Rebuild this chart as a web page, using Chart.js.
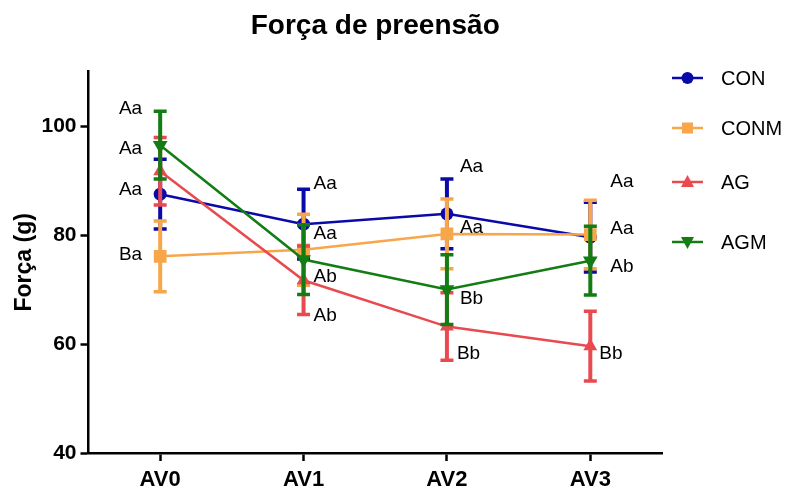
<!DOCTYPE html>
<html>
<head>
<meta charset="utf-8">
<script src="https://cdn.jsdelivr.net/npm/chart.js@4/dist/chart.umd.min.js"></script>
<style>
  body { margin: 0; background: #fff; }
  canvas { display: block; }
</style>
</head>
<body>
<canvas id="chart" width="791" height="488"></canvas>
<script>
// Força de preensão - means +/- error per evaluation
const categories = ['AV0', 'AV1', 'AV2', 'AV3'];

const conValues = [87.5, 82.0, 83.9, 79.6];
const conErrors = [6.4, 6.4, 6.4, 6.4];
const conmValues = [76.1, 77.3, 80.2, 80.1];
const conmErrors = [6.5, 6.5, 6.4, 6.3];
const agValues = [91.7, 71.7, 63.2, 59.6];
const agErrors = [6.2, 6.3, 6.2, 6.4];
const agmValues = [96.5, 75.5, 70.0, 75.3];
const agmErrors = [6.2, 6.4, 6.4, 6.3];

// significance letters and the value level they sit at
const conLetters = ['Aa', 'Aa', 'Aa', 'Aa'];
const conLetterY = [88.4, 89.4, 92.5, 89.7];
const conmLetters = ['Ba', 'Aa', 'Aa', 'Aa'];
const conmLetterY = [76.4, 80.2, 81.3, 81.1];
const agLetters = ['Aa', 'Ab', 'Bb', 'Bb'];
const agLetterY = [95.8, 65.2, 58.3, 58.3];
const agmLetters = ['Aa', 'Ab', 'Bb', 'Ab'];
const agmLetterY = [103.1, 72.4, 68.3, 74.2];

const yTicks = [40, 60, 80, 100];

const FONT = "'Liberation Sans', Arial, Helvetica, sans-serif";
Chart.defaults.font.family = FONT;
Chart.defaults.color = '#000';

const errorBars = {
  id: 'errorBars',
  beforeDatasetDraw(chart, args) {
    const ds = chart.data.datasets[args.index];
    if (!ds.errors) return;
    const y = chart.scales.y;
    const ctx = chart.ctx;
    ctx.save();
    ctx.strokeStyle = ds.borderColor;
    args.meta.data.forEach((pt, i) => {
      const v = ds.data[i], e = ds.errors[i];
      const top = y.getPixelForValue(v + e);
      const bot = y.getPixelForValue(v - e);
      ctx.lineWidth = 4;
      ctx.beginPath();
      ctx.moveTo(pt.x, top);
      ctx.lineTo(pt.x, bot);
      ctx.stroke();
      ctx.lineWidth = 3.5;
      ctx.beginPath();
      ctx.moveTo(pt.x - 6.5, top); ctx.lineTo(pt.x + 6.5, top);
      ctx.moveTo(pt.x - 6.5, bot); ctx.lineTo(pt.x + 6.5, bot);
      ctx.stroke();
    });
    ctx.restore();
  }
};

const letters = {
  id: 'letters',
  afterDatasetsDraw(chart) {
    const ctx = chart.ctx;
    const x = chart.scales.x, y = chart.scales.y;
    ctx.save();
    ctx.font = '19px ' + FONT;
    ctx.fillStyle = '#000';
    ctx.textBaseline = 'middle';
    chart.data.datasets.forEach(ds => {
      ds.letters.forEach((txt, i) => {
        const dx = ds.letterDx[i];
        ctx.textAlign = dx < 0 ? 'right' : 'left';
        ctx.fillText(txt, x.getPixelForValue(i) + dx, y.getPixelForValue(ds.letterY[i]));
      });
    });
    ctx.restore();
  }
};

function drawMarker(ctx, style, cx, cy) {
  ctx.beginPath();
  if (style === 'circle') {
    ctx.arc(cx, cy, 6, 0, Math.PI * 2);
  } else if (style === 'rect') {
    ctx.rect(cx - 5.5, cy - 5.5, 11, 11);
  } else if (style === 'up') {
    ctx.moveTo(cx, cy - 7); ctx.lineTo(cx + 6.5, cy + 5); ctx.lineTo(cx - 6.5, cy + 5);
  } else {
    ctx.moveTo(cx, cy + 7); ctx.lineTo(cx + 6.5, cy - 5); ctx.lineTo(cx - 6.5, cy - 5);
  }
  ctx.closePath();
  ctx.fill();
}

const sideLegend = {
  id: 'sideLegend',
  afterDraw(chart) {
    const ctx = chart.ctx;
    const x0 = chart.chartArea.right + 10;
    const rows = [78, 128, 182, 242];
    const marks = ['circle', 'rect', 'up', 'down'];
    ctx.save();
    ctx.font = '20px ' + FONT;
    ctx.textBaseline = 'middle';
    ctx.textAlign = 'left';
    chart.data.datasets.forEach((ds, i) => {
      const yy = rows[i];
      ctx.strokeStyle = ds.borderColor;
      ctx.fillStyle = ds.borderColor;
      ctx.lineWidth = 2.5;
      ctx.beginPath();
      ctx.moveTo(x0, yy); ctx.lineTo(x0 + 31, yy);
      ctx.stroke();
      drawMarker(ctx, marks[i], x0 + 15.5, yy);
      ctx.fillStyle = '#000';
      ctx.fillText(ds.label, x0 + 49, yy + 1);
    });
    ctx.restore();
  }
};

function series(label, values, errors, color, style, radius, rotation, lettersArr, letterY, dx, order) {
  return {
    label, data: values, errors,
    borderColor: color, backgroundColor: color,
    borderWidth: 2.5, tension: 0,
    pointStyle: style, pointRadius: radius, pointRotation: rotation,
    pointBorderWidth: 0, pointHoverRadius: radius,
    letters: lettersArr, letterY, letterDx: dx, order
  };
}

const defaultDx = [-18, 10, 13, 20];

new Chart(document.getElementById('chart'), {
  type: 'line',
  data: {
    labels: categories,
    datasets: [
      series('CON', conValues, conErrors, '#0a0aa8', 'circle', 6.5, 0, conLetters, conLetterY, defaultDx, 4),
      series('CONM', conmValues, conmErrors, '#f7a64a', 'rect', 9, 0, conmLetters, conmLetterY, defaultDx, 3),
      series('AG', agValues, agErrors, '#e84a4f', 'triangle', 8, 0, agLetters, agLetterY, [-18, 10, 10, 9], 2),
      series('AGM', agmValues, agmErrors, '#137c13', 'triangle', 8.5, 180, agmLetters, agmLetterY, defaultDx, 1)
    ]
  },
  options: {
    responsive: false,
    animation: false,
    layout: { padding: { left: 5, right: 129, top: 0, bottom: 0 } },
    plugins: {
      legend: { display: false },
      tooltip: { enabled: false },
      title: {
        display: true,
        text: 'Força de preensão',
        fullSize: false,
        color: '#000',
        font: { size: 28, weight: 'bold' },
        padding: { top: 9, bottom: 29 }
      }
    },
    scales: {
      x: {
        offset: true,
        afterFit: scale => { scale.height = 35; },
        grid: { display: true, drawOnChartArea: false, tickLength: 8, tickColor: '#000', tickWidth: 2.5 },
        border: { display: true, color: '#000', width: 2.5 },
        ticks: { color: '#000', font: { size: 22, weight: 'bold' }, padding: 5.5 }
      },
      y: {
        min: 40,
        max: 110,
        afterBuildTicks: scale => { scale.ticks = yTicks.map(v => ({ value: v })); },
        grid: { display: true, drawOnChartArea: false, tickLength: 8, tickColor: '#000', tickWidth: 2.5 },
        border: { display: true, color: '#000', width: 2.5 },
        ticks: { color: '#000', font: { size: 21, weight: 'bold' }, padding: 4 },
        title: {
          display: true, text: 'Força (g)', color: '#000',
          font: { size: 23, weight: 'bold', lineHeight: 1.15 },
          padding: { top: 6, bottom: 0 }
        }
      }
    }
  },
  plugins: [errorBars, letters, sideLegend]
});
</script>
</body>
</html>
